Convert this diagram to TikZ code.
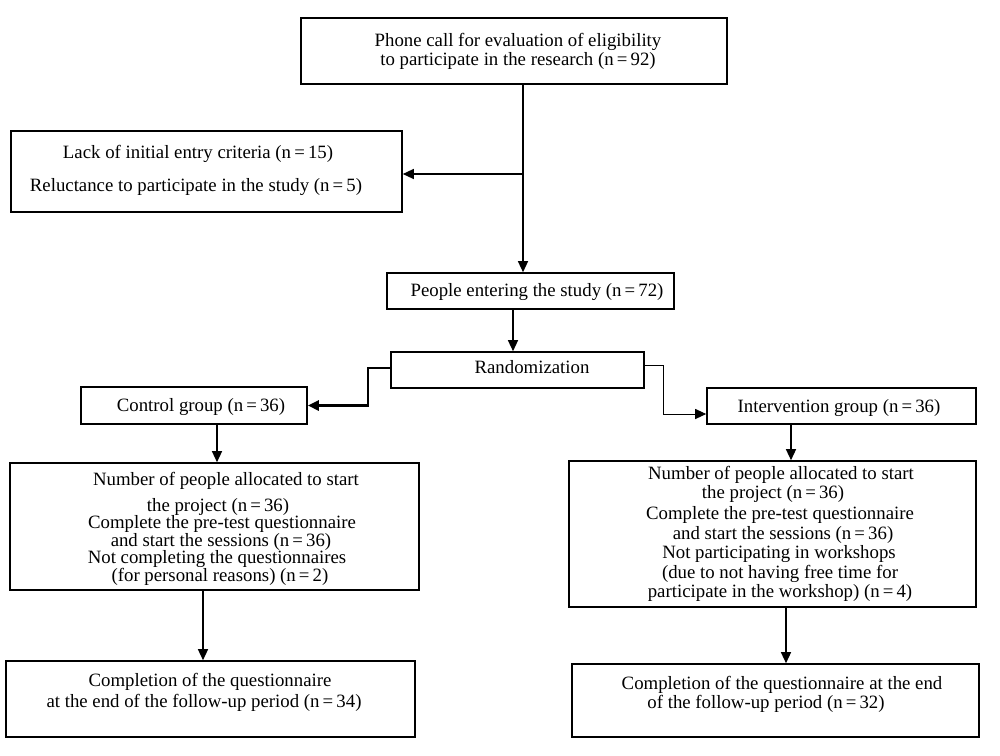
\documentclass[tikz,border=0pt]{standalone}
\usepackage{fontspec}
\setmainfont{Liberation Serif}
\usetikzlibrary{arrows.meta}
\begin{document}
\begin{tikzpicture}[x=1pt,y=-1pt,
  box/.style={draw=black,line width=1.6pt,inner sep=0pt},
  txt/.style={inner sep=0pt,font=\fontsize{18.8}{19}\selectfont,anchor=center},
  conn/.style={draw=black,line width=1.3pt,-{Triangle[length=11pt,width=10pt]}},
  connthick/.style={conn,line width=2.6pt,-{Triangle[length=11pt,width=10pt]}},
  connthin/.style={conn,line width=1pt}]
\useasboundingbox (0,0) rectangle (1000,755);
% boxes
\node[box,minimum width=426pt,minimum height=66pt] (b1) at (514,51) {};
\node[box,minimum width=391pt,minimum height=81pt] (b2) at (206.5,171.5) {};
\node[box,minimum width=287pt,minimum height=36pt] (b3) at (530.5,291) {};
\node[box,minimum width=253pt,minimum height=36pt] (b4) at (517.5,370) {};
\node[box,minimum width=226pt,minimum height=37pt] (b5) at (194,405.5) {};
\node[box,minimum width=269pt,minimum height=36pt] (b6) at (841.5,406) {};
\node[box,minimum width=409pt,minimum height=127pt] (b7) at (214.5,526.5) {};
\node[box,minimum width=407pt,minimum height=146pt] (b8) at (772.5,534) {};
\node[box,minimum width=409pt,minimum height=76pt] (b9) at (210.5,699) {};
\node[box,minimum width=407pt,minimum height=73pt] (b10) at (775.5,700.5) {};
% texts
\foreach \yy/\xx/\t [count=\i] in {42/518/{Phone call for evaluation of eligibility},61/518/{to participate in the research (n\,=\,92)}}
  \node[txt] (t1-\i) at (\xx,\yy) {\t};
\foreach \yy/\xx/\t [count=\i] in {154/198/{Lack of initial entry criteria (n\,=\,15)},187/196/{Reluctance to participate in the study (n\,=\,5)}}
  \node[txt] (t2-\i) at (\xx,\yy) {\t};
\node[txt] (t3) at (537,292) {People entering the study (n\,=\,72)};
\node[txt] (t4) at (532,367) {Randomization};
\node[txt] (t5) at (201,407) {Control group (n\,=\,36)};
\node[txt] (t6) at (839,408) {Intervention group (n\,=\,36)};
\foreach \yy/\xx/\t [count=\i] in {481/226/{Number of people allocated to start},506.5/218/{the project (n\,=\,36)},524/222/{Complete the pre-test questionnaire},541.5/221/{and start the sessions (n\,=\,36)},559/217/{Not completing the questionnaires},576.5/220/{(for personal reasons) (n\,=\,2)}}
  \node[txt] (t7-\i) at (\xx,\yy) {\t};
\foreach \yy/\xx/\t [count=\i] in {475/781/{Number of people allocated to start},494/773/{the project (n\,=\,36)},515/780/{Complete the pre-test questionnaire},535/783/{and start the sessions (n\,=\,36)},554/779/{Not participating in workshops},574/780/{(due to not having free time for},593/780/{participate in the workshop) (n\,=\,4)}}
  \node[txt] (t8-\i) at (\xx,\yy) {\t};
\foreach \yy/\xx/\t [count=\i] in {682/210/{Completion of the questionnaire},703/204/{at the end of the follow-up period (n\,=\,34)}}
  \node[txt] (t9-\i) at (\xx,\yy) {\t};
\foreach \yy/\xx/\t [count=\i] in {685/782/{Completion of the questionnaire at the end},704/766/{of the follow-up period (n\,=\,32)}}
  \node[txt] (t10-\i) at (\xx,\yy) {\t};
% connector coordinates
\coordinate (j) at (523,174);
\coordinate (c34) at (513,0);
\coordinate (k1) at (368,368);
\coordinate (k3) at (663,365);
\coordinate (k4) at (663,414);
\coordinate (c57) at (217,0);
\coordinate (c68) at (791,0);
\coordinate (c79) at (203,0);
\coordinate (c810) at (786,0);
% connectors
\draw[conn] (b1.south -| j) -- (b3.north -| j);
\draw[conn] (j) -- (b2.east |- j);
\draw[conn] (b3.south -| c34) -- (b4.north -| c34);
\draw[connthick] (b4.west |- k1) -- (k1) |- (b5.east);
\draw[connthin] (b4.east |- k3) -- (k3) -- (k4) -- (b6.west |- k4);
\draw[conn] (b5.south -| c57) -- (b7.north -| c57);
\draw[conn] (b6.south -| c68) -- (b8.north -| c68);
\draw[conn] (b7.south -| c79) -- (b9.north -| c79);
\draw[conn] (b8.south -| c810) -- (b10.north -| c810);
\end{tikzpicture}
\end{document}
